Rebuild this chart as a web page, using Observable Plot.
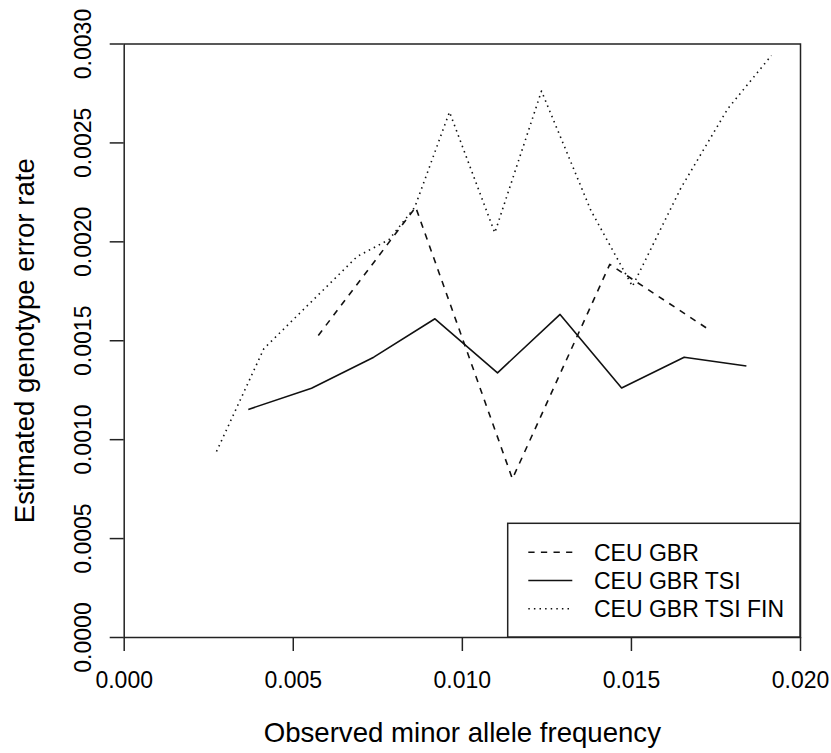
<!DOCTYPE html>
<html>
<head>
<meta charset="utf-8">
<script src="https://cdn.jsdelivr.net/npm/d3@7"></script>
<script src="https://cdn.jsdelivr.net/npm/@observablehq/plot@0.6"></script>
<style>
  html, body { margin: 0; padding: 0; background: #fff; }
  #chart svg { display: block; }
</style>
</head>
<body>
<div id="chart"></div>
<script>
// ---- Data ----
const xTicks = [0, 0.005, 0.010, 0.015, 0.020];
const yTicks = [0, 0.0005, 0.0010, 0.0015, 0.0020, 0.0025, 0.0030];
const seriesNames = ["CEU GBR", "CEU GBR TSI", "CEU GBR TSI FIN"];

const mafCEUGBR = [0.00574, 0.00862, 0.01148, 0.01436, 0.01725];
const errCEUGBR = [0.001527, 0.002175, 0.000802, 0.001886, 0.001561];

const mafCEUGBRTSI = [0.00367, 0.00554, 0.00738, 0.00919, 0.01104, 0.01289, 0.01471, 0.01656, 0.01840];
const errCEUGBRTSI = [0.001153, 0.001260, 0.001417, 0.001611, 0.001338, 0.001633, 0.001261, 0.001417, 0.001372];

const mafCEUGBRTSIFIN = [0.00273, 0.00413, 0.00689, 0.00783, 0.00859, 0.00962, 0.01096, 0.01234, 0.01380, 0.01503, 0.01646, 0.01785, 0.01914];
const errCEUGBRTSIFIN = [0.000940, 0.001460, 0.001926, 0.002011, 0.002174, 0.002656, 0.002046, 0.002762, 0.002159, 0.001775, 0.002271, 0.002673, 0.002942];

const xTitle = "Observed minor allele frequency";
const yTitle = "Estimated genotype error rate";

// ---- Build table ----
const seriesData = {
  "CEU GBR": [mafCEUGBR, errCEUGBR],
  "CEU GBR TSI": [mafCEUGBRTSI, errCEUGBRTSI],
  "CEU GBR TSI FIN": [mafCEUGBRTSIFIN, errCEUGBRTSIFIN]
};
const rows = [];
for (const name of seriesNames) {
  const [xs, ys] = seriesData[name];
  xs.forEach((x, i) => rows.push({series: name, maf: x, err: ys[i]}));
}

// ---- Styles ----
const dashes = {"CEU GBR": "6.3,6.3", "CEU GBR TSI": "none", "CEU GBR TSI FIN": "1.5,4.1"};
const W = 831, H = 753, mL = 123.7, mR = 31, mT = 43.5, mB = 116;
const font = "'Liberation Sans', Arial, Helvetica, sans-serif";
const tickFont = 23, titleFont = 27.6;

const chart = Plot.plot({
  width: W, height: H,
  marginLeft: mL, marginRight: mR, marginTop: mT, marginBottom: mB,
  style: {fontFamily: font, fontSize: tickFont + "px", background: "white", color: "black"},
  x: {domain: [0, 0.02]},
  y: {domain: [0, 0.003]},
  marks: [
    Plot.frame({stroke: "#222", strokeWidth: 1.5}),
    Plot.axisX({ticks: xTicks, tickSize: 14, tickPadding: 20.5, tickFormat: d3.format(".3f"),
                fontSize: tickFont, label: null, strokeWidth: 1.5, stroke: "#222"}),
    Plot.axisY({ticks: yTicks, tickSize: 14, tickPadding: 19.7, tickRotate: -90, tickFormat: d3.format(".4f"),
                fontSize: tickFont, label: null, strokeWidth: 1.5, stroke: "#222"}),
    ...seriesNames.map(name => Plot.line(rows.filter(r => r.series === name), {
      x: "maf", y: "err", stroke: "#111", strokeWidth: 1.6,
      strokeDasharray: dashes[name], strokeLinecap: "butt", strokeLinejoin: "round"
    })),
    Plot.text([xTitle], {text: d => d, frameAnchor: "bottom", dy: 104, lineAnchor: "bottom",
                         textAnchor: "middle", fontSize: titleFont, fill: "black"}),
    Plot.text([yTitle], {text: d => d, frameAnchor: "left", dx: -90.7, rotate: -90, lineAnchor: "bottom",
                         textAnchor: "middle", fontSize: titleFont, fill: "black"})
  ]
});

// ---- Legend (bottom-right, inside plot area) ----
const svg = d3.select(chart);
const right = W - mR, bottom = H - mB;
const boxW = 292.3, boxH = 113.7;
const lg = svg.append("g").attr("font-family", font).attr("font-size", tickFont).attr("text-anchor", "start");
lg.append("rect")
  .attr("x", right - boxW).attr("y", bottom - boxH)
  .attr("width", boxW).attr("height", boxH)
  .attr("fill", "white").attr("stroke", "#222").attr("stroke-width", 1.5);
const rowOffsets = [84.7, 56.5, 28.3];
seriesNames.forEach((name, i) => {
  const cy = bottom - rowOffsets[i];
  lg.append("line")
    .attr("x1", right - 271.7).attr("x2", right - 227.7)
    .attr("y1", cy).attr("y2", cy)
    .attr("stroke", "#111").attr("stroke-width", 1.6)
    .attr("stroke-dasharray", dashes[name]).attr("stroke-linecap", "butt");
  lg.append("text")
    .attr("x", right - 206).attr("y", cy + 8.2)
    .attr("text-anchor", "start")
    .attr("fill", "black")
    .text(name);
});

document.getElementById("chart").appendChild(chart);
</script>
</body>
</html>
